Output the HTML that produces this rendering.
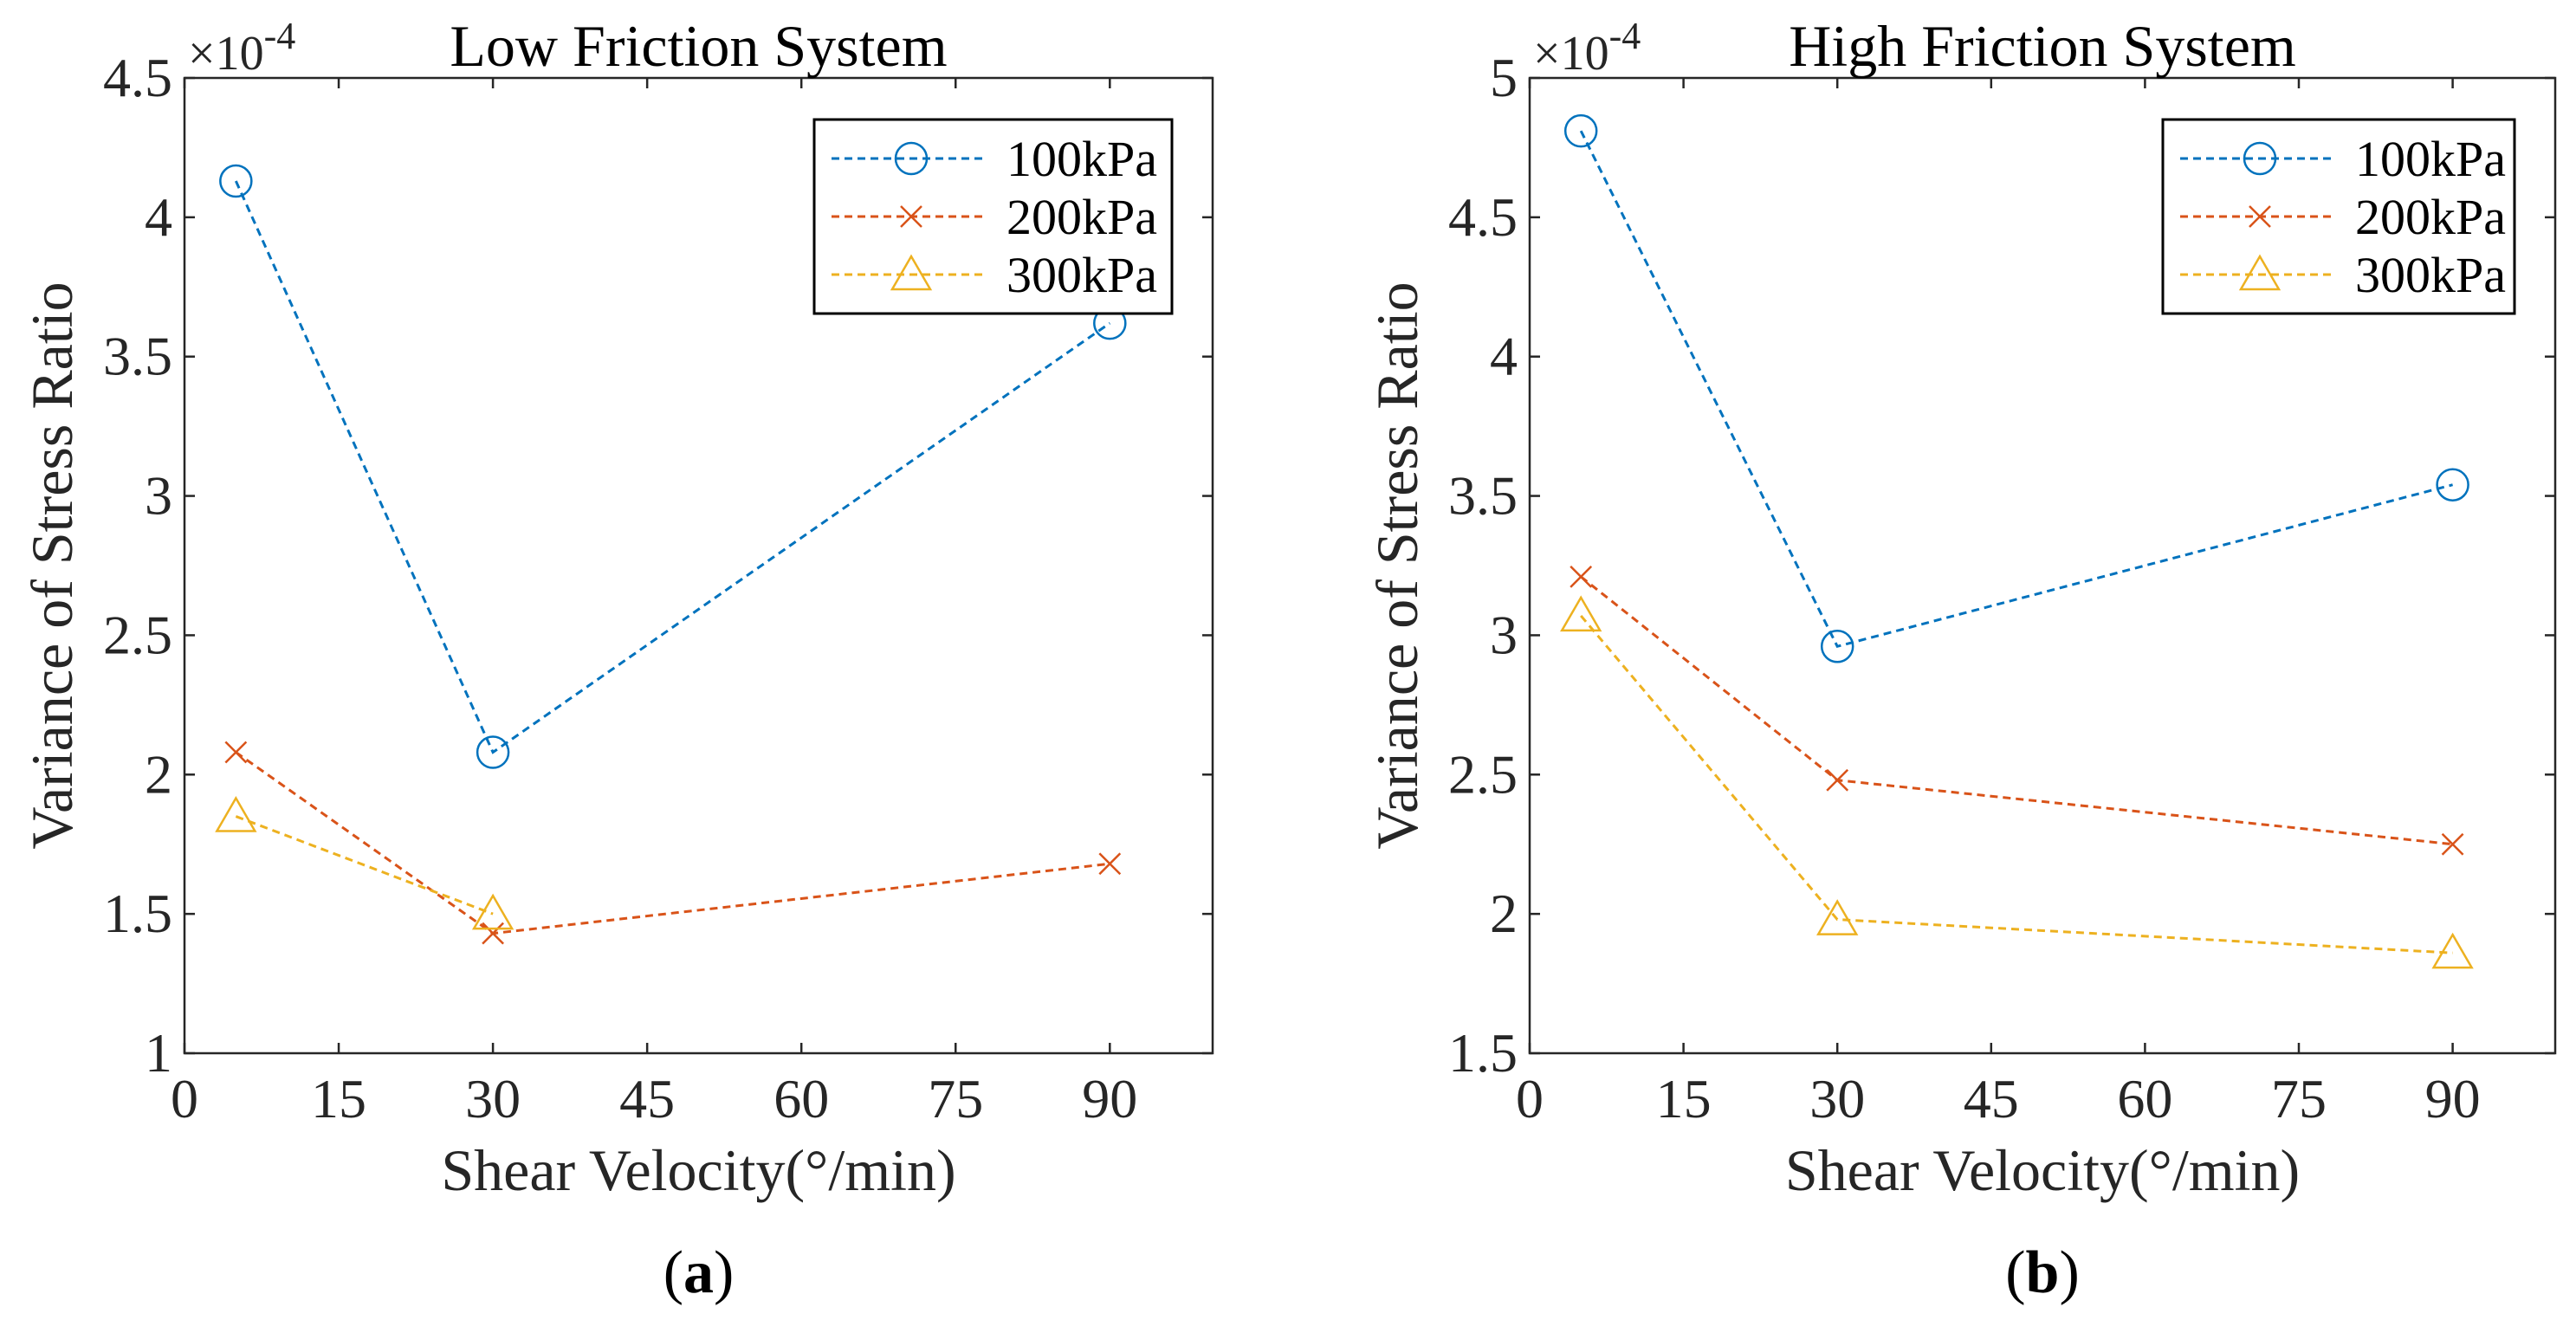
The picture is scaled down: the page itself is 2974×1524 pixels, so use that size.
<!DOCTYPE html>
<html><head><meta charset="utf-8"><style>
body{margin:0;background:#fff}
svg{display:block;font-family:"Liberation Serif",serif}
</style></head><body>
<svg id="chart" width="2974" height="1524" viewBox="0 0 2974 1524" xmlns="http://www.w3.org/2000/svg"></svg>
<script>
const xTicks=[0,15,30,45,60,75,90];
const velocities=[5,30,90];
const seriesNames=["100kPa","200kPa","300kPa"];
const lowP100=[4.13,2.08,3.62];
const lowP200=[2.08,1.43,1.68];
const lowP300=[1.85,1.50,null];
const highP100=[4.81,2.96,3.54];
const highP200=[3.21,2.48,2.25];
const highP300=[3.07,1.98,1.86];
const lowYTicks=[1,1.5,2,2.5,3,3.5,4,4.5];
const highYTicks=[1.5,2,2.5,3,3.5,4,4.5,5];
const colors=["#0072BD","#D95319","#EDB120"];
const markers=["circle","x","triangle"];
const NS="http://www.w3.org/2000/svg";
const svg=document.getElementById("chart");
function mk(tag,attrs,parent){const e=document.createElementNS(NS,tag);for(const k in attrs)e.setAttribute(k,attrs[k]);(parent||svg).appendChild(e);return e;}
function marker(g,type,x,y,c){
 if(type==="circle"){const m=mk("circle",{cx:x,cy:y,r:18,fill:"none",stroke:c,"stroke-width":2.5},g);}
 else if(type==="x"){const m=mk("path",{d:`M${x-12},${y-12}L${x+12},${y+12}M${x-12},${y+12}L${x+12},${y-12}`,stroke:c,"stroke-width":2.5,fill:"none"},g);}
 else {const m=mk("path",{d:`M${x},${y-21}L${x+22},${y+17}L${x-22},${y+17}Z`,stroke:c,"stroke-width":2.5,fill:"none"},g);}
}
function panel(o){
 const {L,R,T,B,ymin,ymax,yTicks,series,title,label,legX,legW,id}=o;
 const xs=v=>L+(v-0)/100*(R-L);
 const ys=v=>B-(v-ymin)/(ymax-ymin)*(B-T);
 const g=mk("g",{});
 
 
 const box=mk("rect",{x:L,y:T,width:R-L,height:B-T,fill:"#fff",stroke:"#262626","stroke-width":2.5},g);
 
 
 xTicks.forEach(t=>{
  const x=xs(t);
  mk("line",{x1:x,y1:B,x2:x,y2:B-12,stroke:"#262626","stroke-width":2.5},g);
  mk("line",{x1:x,y1:T,x2:x,y2:T+12,stroke:"#262626","stroke-width":2.5},g);
  const tx=mk("text",{x:x,y:B+74,"font-size":64,"text-anchor":"middle",fill:"#262626"},g);tx.textContent=t;
  
  
 });
 yTicks.forEach(t=>{
  const y=ys(t);
  mk("line",{x1:L,y1:y,x2:L+12,y2:y,stroke:"#262626","stroke-width":2.5},g);
  mk("line",{x1:R,y1:y,x2:R-12,y2:y,stroke:"#262626","stroke-width":2.5},g);
  const tx=mk("text",{x:L-14,y:y+21,"font-size":64,"text-anchor":"end",fill:"#262626"},g);tx.textContent=t;
  
  
 });
 const ex=mk("text",{x:L+4,y:80,"font-size":56,fill:"#262626"},g);ex.innerHTML='×10<tspan dy="-24" font-size="44">-4</tspan>';
 
 
 const ti=mk("text",{x:(L+R)/2,y:76,"font-size":68,"text-anchor":"middle",fill:"#000"},g);ti.textContent=title;
 
 
 const xl=mk("text",{x:(L+R)/2,y:1374,"font-size":68,"text-anchor":"middle",fill:"#262626"},g);xl.textContent="Shear Velocity(°/min)";
 
 
 const yx=L-130, yy=(T+B)/2;
 const yl=mk("text",{x:yx,y:yy,"font-size":68,"text-anchor":"middle",fill:"#262626",transform:`rotate(-90 ${yx} ${yy})`},g);yl.textContent="Variance of Stress Ratio";
 
 
 const pl=mk("text",{x:(L+R)/2,y:1492,"font-size":70,"text-anchor":"middle",fill:"#000"},g);pl.innerHTML='(<tspan font-weight="bold">'+label+'</tspan>)';
 
 
 series.forEach((vals,i)=>{
  const sg=mk("g",{},g);
  
  
  const pts=[];velocities.forEach((v,j)=>{if(vals[j]!=null)pts.push([xs(v),ys(vals[j])]);});
  const ln=mk("polyline",{points:pts.map(p=>p.join(",")).join(" "),fill:"none",stroke:colors[i],"stroke-width":3,"stroke-dasharray":"9,6"},sg);
  
  
  pts.forEach(p=>marker(sg,markers[i],p[0],p[1],colors[i]));
 });
 const lg=mk("g",{},g);
 
 
 mk("rect",{x:legX,y:138,width:legW,height:224,fill:"#fff",stroke:"#000","stroke-width":3},lg);
 seriesNames.forEach((n,i)=>{
  const y=183+i*67;
  const e=mk("g",{},lg);
  
  
  mk("line",{x1:legX+20,y1:y,x2:legX+200,y2:y,stroke:colors[i],"stroke-width":3,"stroke-dasharray":"9,6"},e);
  marker(e,markers[i],legX+112,y,colors[i]);
  const t=mk("text",{x:legX+222,y:y+20,"font-size":58,fill:"#000"},e);t.textContent=n;
 });
}
panel({id:"low-friction-panel",L:213,R:1400,T:90,B:1216,ymin:1,ymax:4.5,yTicks:lowYTicks,series:[lowP100,lowP200,lowP300],title:"Low Friction System",label:"a",legX:940,legW:413});
panel({id:"high-friction-panel",L:1766,R:2950,T:90,B:1216,ymin:1.5,ymax:5,yTicks:highYTicks,series:[highP100,highP200,highP300],title:"High Friction System",label:"b",legX:2497,legW:406});
</script>
</body></html>
